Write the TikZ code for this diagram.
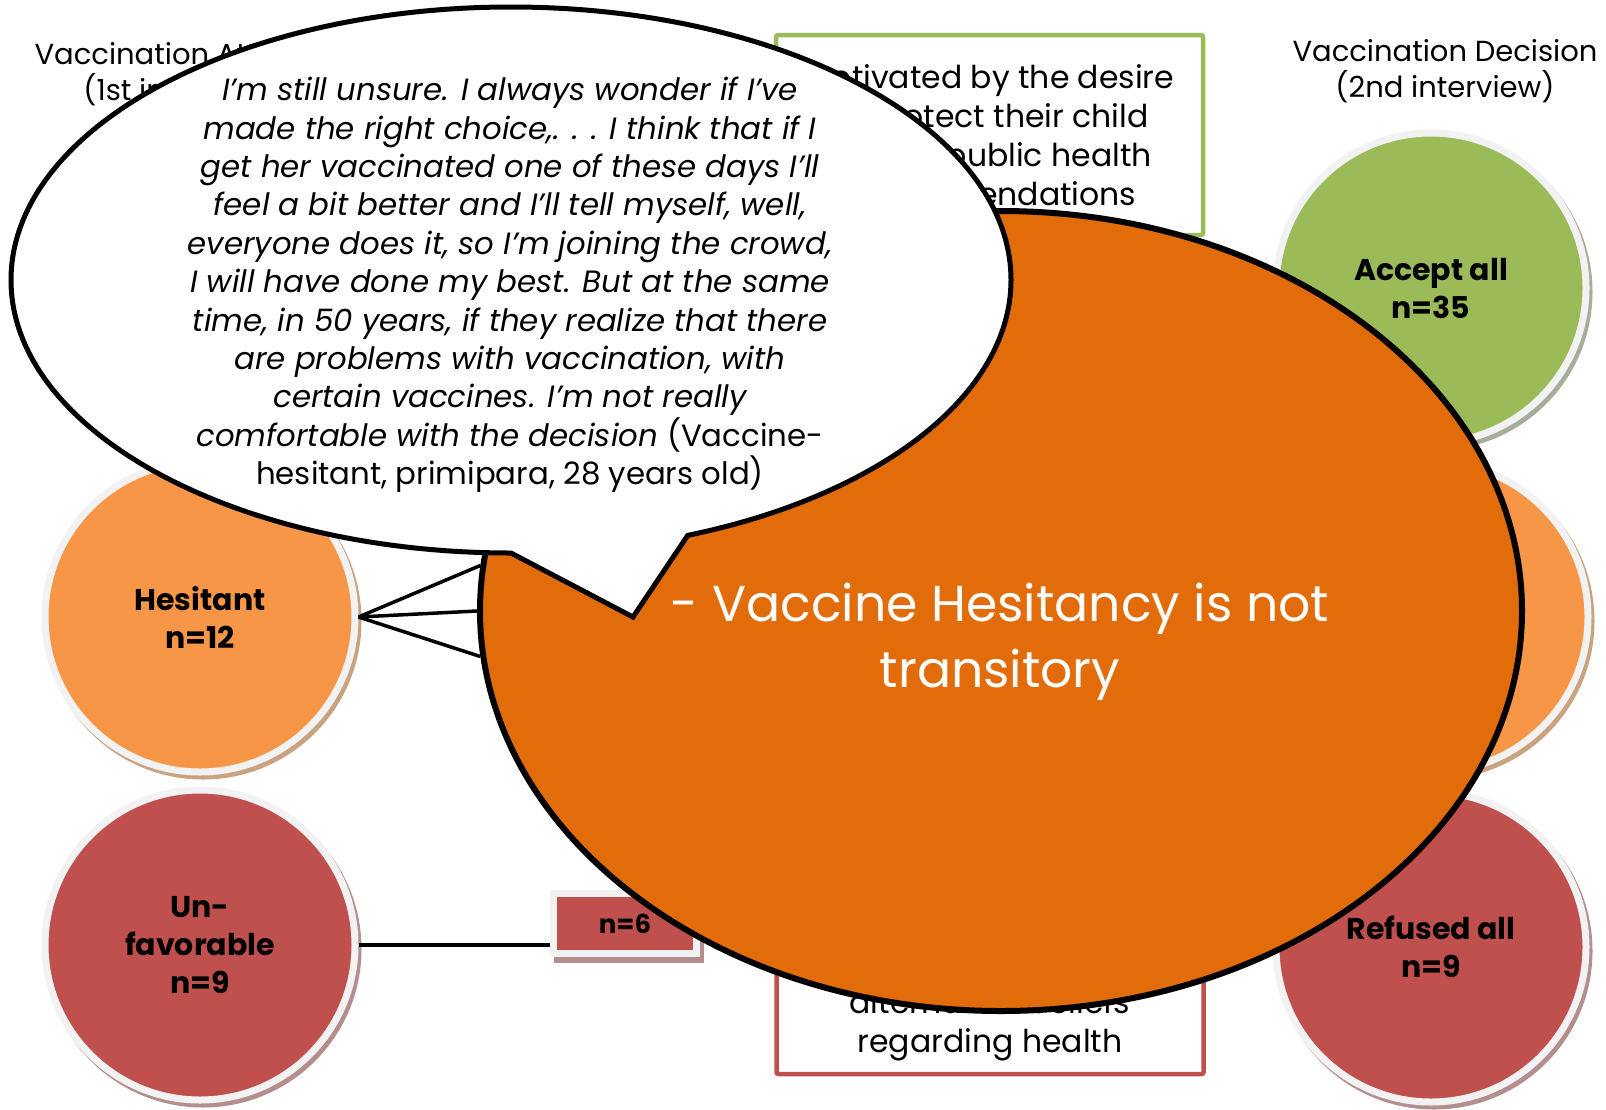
\documentclass[tikz,border=0pt]{standalone}
\usepackage{fontspec}
\setmainfont{Poppins}
\usetikzlibrary{shapes.geometric}

\definecolor{accgreen}{HTML}{9BBB59}
\definecolor{hesorange}{HTML}{F79646}
\definecolor{refred}{HTML}{C0504D}
\definecolor{bigorange}{HTML}{E36C0A}
\definecolor{ringgray}{HTML}{F2F2F2}
\definecolor{shgreen}{HTML}{A6AE99}
\definecolor{shorange}{HTML}{C9A27F}
\definecolor{shred}{HTML}{B48E8E}

\tikzset{
  castshadow/.style={preaction={draw=#1, fill=#1, line width=7pt,
      transform canvas={shift={(3pt,-4pt)}}}},
  group/.style={circle, minimum size=310pt, inner sep=0pt, draw=ringgray,
      line width=7pt, align=center, font=\fontsize{30}{38}\selectfont\bfseries},
  reason/.style={rectangle, rounded corners=2pt, minimum width=427pt,
      line width=4.5pt, align=center, fill=white,
      font=\fontsize{31.5}{39}\selectfont},
  heading/.style={align=center, font=\fontsize{29}{36}\selectfont},
  link/.style={line width=3.5pt},
}

\begin{document}
\begin{tikzpicture}[x=1pt, y=1pt]
\useasboundingbox (0,0) rectangle (1606,-1109);
% headings
\node[heading] (leftttl) at (183,-74) {Vaccination Attitude\\(1st interview)};
\node[heading] (rightttl) at (1445,-71) {Vaccination Decision\\(2nd interview)};
% reasons
\node[reason, draw=accgreen, minimum height=200pt] (protect) at (989.5,-135)
  {Motivated by the desire\\to protect their child\\and by public health\\recommendations};
\node[reason, draw=refred, minimum height=176pt] (distrust) at (990,-986)
  {Motivated by distrust\\of vaccines and by\\alternative beliefs\\regarding health};
% groups
\node[group, fill=hesorange, castshadow=shorange] (hes) at (200,-617) {Hesitant\\n=12};
\node[group, fill=refred, castshadow=shred] (unf) at (200,-945) {Un-\\favorable\\n=9};
\node[group, fill=accgreen, castshadow=shgreen] (acc) at (1431,-288) {Accept all\\n=35};
\node[group, fill=hesorange, castshadow=shorange] (part) at (1433,-617) {};
\node[group, fill=refred, castshadow=shred] (ref) at (1431,-947) {Refused all\\n=9};
% n=6
\node[rectangle, fill=refred, draw=ringgray, line width=7pt, minimum width=143pt,
  minimum height=60pt, font=\fontsize{26}{30}\selectfont\bfseries,
  preaction={draw=shred, fill=shred, line width=7pt, transform canvas={shift={(4pt,-6pt)}}}]
  (nsix) at (625,-923.5) {n=6};
\draw[link] (unf.east) -- (unf.east -| nsix.west);
% big claim
\node[ellipse, draw, fill=bigorange, line width=6pt, minimum width=1042pt,
  minimum height=800pt] (claim) at (1001,-611) {};
\node[align=center, text=white, font=\fontsize{50.5}{66}\selectfont] (claimtxt) at (1000,-642)
  {- Vaccine Hesitancy is not\\transitory};
\draw[link] (hes.east) -- (claim.175.7);
\draw[link] (hes.east) -- (claim.180);
\draw[link] (hes.east) -- (claim.185.2);
% quote callout
\coordinate (tip) at (633,-617);
\draw[line width=5pt, fill=white, line join=miter]
  (tip) -- (511,-553) arc[start angle=270, end angle=-69.3, x radius=500, y radius=273] -- cycle;
\node[align=center, font=\fontsize{30.8}{38.4}\selectfont] (quote) at (510,-285)
  {\itshape I’m still unsure. I always wonder if I’ve\\
   \itshape made the right choice,. . . I think that if I\\
   \itshape get her vaccinated one of these days I’ll\\
   \itshape feel a bit better and I’ll tell myself, well,\\
   \itshape everyone does it, so I’m joining the crowd,\\
   \itshape I will have done my best. But at the same\\
   \itshape time, in 50 years, if they realize that there\\
   \itshape are problems with vaccination, with\\
   \itshape certain vaccines. I’m not really\\
   \itshape comfortable with the decision \upshape(Vaccine-\\
   hesitant, primipara, 28 years old)};
\end{tikzpicture}
\end{document}
